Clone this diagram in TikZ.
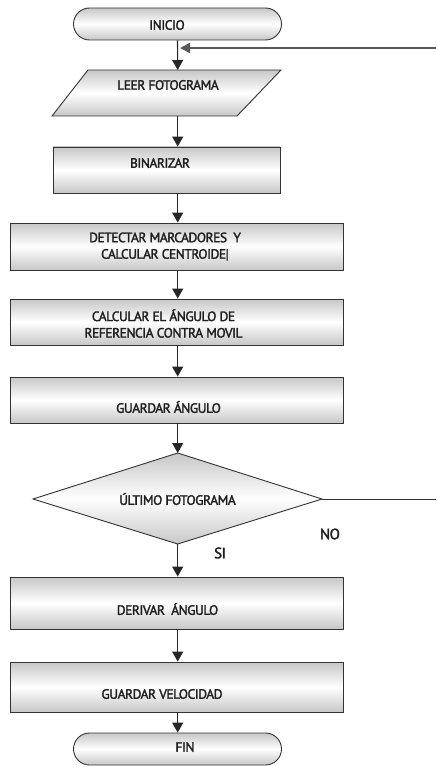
\documentclass[tikz,border=0pt]{standalone}
\usepackage{fontspec}
\setmainfont{PT Sans}
\newfontfamily\labelfont[FakeBold=2, LetterSpace=-3.5]{PT Sans}
\usetikzlibrary{arrows.meta,shapes.misc}
\begin{document}
\begin{tikzpicture}[x=1pt,y=-1pt,
  outline/.style={draw=black!80, line width=0.9pt},
  flow/.style={draw=black!85, line width=1.1pt, -{Triangle[width=11pt,length=10pt]}},
  boxshade/.style={top color=black!22, bottom color=black!22, middle color=white},
  procbox/.style={rectangle, outline, boxshade, inner sep=0pt},
  terminal/.style={rounded rectangle, outline, boxshade, inner sep=0pt,
    minimum width=208pt, minimum height=32pt},
  txt/.style={font=\labelfont\fontsize{13.5}{16.5}\selectfont, text=black!88, inner sep=0pt, anchor=center},
]
\useasboundingbox (0,0) rectangle (436,767);

% start and end terminals
\node[terminal] (ini) at (177.5,24) {};
\node[terminal] (fin) at (177.5,749) {};

% input: read frame
\path[outline, boxshade] (88,70) -- (281,70) -- (237,116) -- (52,116) -- cycle;
\coordinate (leerT) at (177.7,70);
\coordinate (leerB) at (177.7,116);

% process boxes
\node[procbox, minimum width=227pt, minimum height=46pt] (bin) at (166.7,170) {};
\node[procbox, minimum width=333pt, minimum height=47pt] (det) at (176.5,246.5) {};
\node[procbox, minimum width=333pt, minimum height=46pt] (cal) at (176.5,322) {};
\node[procbox, minimum width=333pt, minimum height=46pt] (gang) at (176.5,400) {};
\node[procbox, minimum width=333pt, minimum height=52pt] (der) at (176.5,603) {};
\node[procbox, minimum width=333pt, minimum height=50pt] (gvel) at (176.5,687) {};

% decision
\path[outline, boxshade] (33,499) coordinate (dL) -- (177.7,453) coordinate (dT)
  -- (322,499) coordinate (dR) -- (177.7,544) coordinate (dB) -- cycle;

% texts
\node[txt] (tini) at (167,25) {INICIO};
\node[txt] (tleer) at (168,85) {LEER FOTOGRAMA};
\node[txt] (tbin) at (160,163) {BINARIZAR};
\node[txt, align=center] (tdet) at (165,246.5) {DETECTAR MARCADORES~~Y\\CALCULAR CENTROIDE|};
\node[txt, align=center] (tcal) at (163.5,323.5) {CALCULAR EL ÁNGULO DE\\REFERENCIA CONTRA MOVIL};
\node[txt] (tgang) at (168.5,407) {GUARDAR ÁNGULO};
\node[txt] (tult) at (177.5,499) {ÚLTIMO FOTOGRAMA};
\node[txt, font=\labelfont\fontsize{15}{17}\selectfont] (tno) at (330,534) {NO};
\node[txt, font=\labelfont\fontsize{15}{17}\selectfont] (tsi) at (220,553) {SI};
\node[txt] (tder) at (167.5,609) {DERIVAR~~ÁNGULO};
\node[txt] (tgvel) at (162,694) {GUARDAR VELOCIDAD};
\node[txt] (tfin) at (185,747) {FIN};

% main flow
\draw[flow] (ini.south) -- (leerT);
\draw[flow] (leerB) -- (leerB |- bin.north);
\draw[flow] (leerB |- bin.south) -- (leerB |- det.north);
\draw[flow] (leerB |- det.south) -- (leerB |- cal.north);
\draw[flow] (leerB |- cal.south) -- (leerB |- gang.north);
\draw[flow] (leerB |- gang.south) -- (dT);
\draw[flow] (dB) -- (dB |- der.north);
\draw[flow] (dB |- der.south) -- (dB |- gvel.north);
\draw[flow] (dB |- gvel.south) -- (fin.north -| dB);

% loop back for the next frame
\coordinate (noEnd) at (436,499);
\coordinate (retIn) at (436,48);
\coordinate (retJoin) at (180,48);
\draw[draw=black!80, line width=0.8pt] (dR) -- (noEnd);
\draw[draw=black!65, line width=1.8pt, -{Triangle[width=10pt,length=10pt]}] (retIn) -- (retJoin);
\end{tikzpicture}
\end{document}
